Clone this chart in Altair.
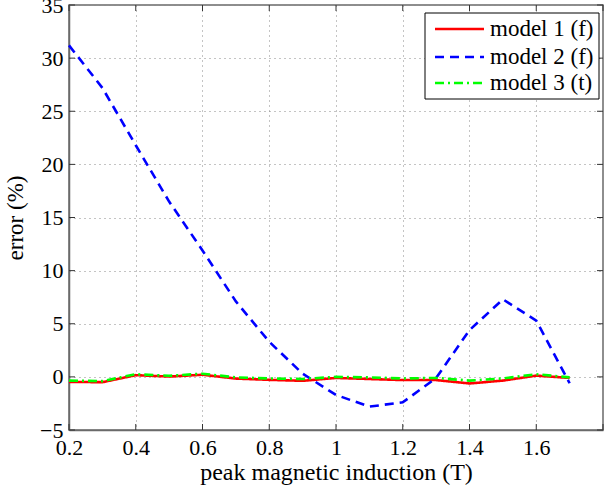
import altair as alt
import pandas as pd

# peak magnetic induction (T)
induction = [0.2, 0.3, 0.4, 0.5, 0.6, 0.7, 0.8, 0.9, 1.0, 1.1, 1.2, 1.3, 1.4, 1.5, 1.6, 1.7]

# relative error (%) of each model
model1 = [-0.47, -0.5, 0.16, 0.03, 0.2, -0.16, -0.28, -0.37, -0.1, -0.2, -0.3, -0.3, -0.62, -0.35, 0.12, -0.1]
model2 = [31.2, 27.2, 21.8, 16.5, 11.9, 7.1, 3.3, 0.3, -1.7, -2.8, -2.4, -0.1, 4.4, 7.3, 5.3, -0.6]
model3 = [-0.35, -0.4, 0.25, 0.1, 0.3, -0.05, -0.15, -0.2, 0.0, -0.05, -0.15, -0.1, -0.35, -0.15, 0.25, -0.05]

series_names = ["model 1 (f)", "model 2 (f)", "model 3 (t)"]
series_colors = ["#ff0000", "#0000ff", "#00ff00"]
series_dashes = [[1, 0], [9, 6], [9, 4, 2, 4]]

x_ticks = [0.2, 0.4, 0.6, 0.8, 1.0, 1.2, 1.4, 1.6, 1.8]
x_labels = [0.2, 0.4, 0.6, 0.8, 1.0, 1.2, 1.4, 1.6]
y_ticks = [-5, 0, 5, 10, 15, 20, 25, 30, 35]

W, H = 534, 425
FONT = "Liberation Serif"
TICK = 6
LW = 2.6

rows = []
for name, vals in zip(series_names, [model1, model2, model3]):
    for xv, yv in zip(induction, vals):
        rows.append({"induction": xv, "error": yv, "model": name})
df = pd.DataFrame(rows)

x_scale = alt.Scale(domain=[0.2, 1.8], nice=False, zero=False)
y_scale = alt.Scale(domain=[-5, 35], nice=False, zero=False)

x_axis = alt.Axis(values=x_labels, title="peak magnetic induction (T)",
                  labelExpr="format(datum.value, '~g')", labelFlush=False,
                  tickSize=0, labelPadding=7, titlePadding=2, titleFontSize=24)
y_axis = alt.Axis(values=y_ticks, title="error (%)", tickSize=0, labelPadding=6,
                  titlePadding=12, titleFontSize=23, labelFlush=False)

lines = alt.Chart(df).mark_line(strokeWidth=LW).encode(
    x=alt.X("induction:Q", scale=x_scale, axis=x_axis),
    y=alt.Y("error:Q", scale=y_scale, axis=y_axis),
    color=alt.Color("model:N", scale=alt.Scale(domain=series_names, range=series_colors), legend=None),
    strokeDash=alt.StrokeDash("model:N", scale=alt.Scale(domain=series_names, range=series_dashes), legend=None),
)

# vertical grid line at the right edge
xt = pd.DataFrame({"t": x_ticks})
yt = pd.DataFrame({"t": y_ticks})

rule_style = dict(color="#333", strokeWidth=1)
bottom_ticks = alt.Chart(xt).mark_rule(**rule_style).encode(
    x=alt.X("t:Q", scale=x_scale), y=alt.value(H), y2=alt.value(H - TICK))
top_ticks = alt.Chart(xt).mark_rule(**rule_style).encode(
    x=alt.X("t:Q", scale=x_scale), y=alt.value(0), y2=alt.value(TICK))
left_ticks = alt.Chart(yt).mark_rule(**rule_style).encode(
    y=alt.Y("t:Q", scale=y_scale), x=alt.value(0), x2=alt.value(TICK))
right_ticks = alt.Chart(yt).mark_rule(**rule_style).encode(
    y=alt.Y("t:Q", scale=y_scale), x=alt.value(W), x2=alt.value(W - TICK))

# legend box in the upper right corner
LX0, LX1, LY0, LY1 = 356, 530, 8, 94
legend_rows = [24, 52, 78]
one = pd.DataFrame({"k": [0]})

legend_layers = [
    alt.Chart(one).mark_rect(fill="white", stroke="black", strokeWidth=1).encode(
        x=alt.value(LX0), x2=alt.value(LX1), y=alt.value(LY0), y2=alt.value(LY1))
]
for name, col, dash, ry in zip(series_names, series_colors, series_dashes, legend_rows):
    legend_layers.append(
        alt.Chart(one).mark_rule(color=col, strokeWidth=LW, strokeDash=dash).encode(
            x=alt.value(LX0 + 10), x2=alt.value(LX0 + 59), y=alt.value(ry)))
    legend_layers.append(
        alt.Chart(pd.DataFrame({"label": [name]})).mark_text(
            font=FONT, fontSize=23, color="black", align="left", baseline="middle").encode(
            x=alt.value(LX0 + 65), y=alt.value(ry), text="label:N"))

chart = alt.layer(lines, bottom_ticks, top_ticks, left_ticks, right_ticks, *legend_layers).properties(
    width=W, height=H,
    autosize=alt.AutoSizeParams(type="none"),
    padding={"left": 69, "top": 5, "right": 2, "bottom": 58},
    background="white",
).configure_view(
    stroke="#6a6a6a", strokeWidth=1.5
).configure_axis(
    labelFont=FONT, labelFontSize=22, labelColor="black",
    titleFont=FONT, titleFontWeight="normal", titleColor="black",
    domainColor="#6a6a6a", domainWidth=1.5,
    grid=True, gridColor="#888", gridDash=[1, 4], gridWidth=1,
)

chart.save("out.html", embed_options={"renderer": "svg", "actions": False})
